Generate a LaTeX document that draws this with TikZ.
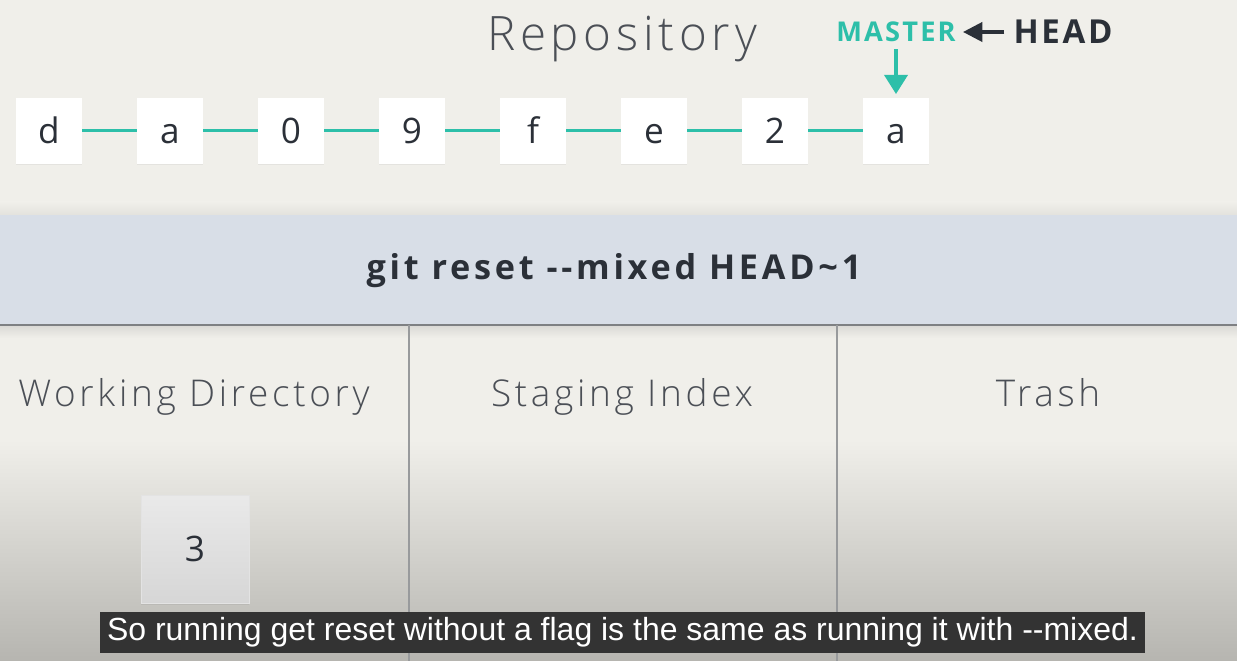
\documentclass[tikz,border=0pt]{standalone}
\usepackage{fontspec}
\setmainfont{Open Sans}
\newfontfamily\lightfont[LetterSpace=10]{Open Sans Light}
\newfontfamily\heavyfont[LetterSpace=8]{Open Sans Bold}
\newfontfamily\cmdfont[LetterSpace=11]{Open Sans Bold}
\newfontfamily\capfont{Liberation Sans}
\usetikzlibrary{arrows.meta,positioning,shadows}
\definecolor{paper}{HTML}{F0EFEA}
\definecolor{band}{HTML}{D8DEE7}
\definecolor{teal}{HTML}{2DBFA9}
\definecolor{ink}{HTML}{2B3038}
\definecolor{rule}{HTML}{7E8083}
\definecolor{floor}{HTML}{B6B5B0}

\tikzset{
  commit/.style={fill=white,minimum size=1.32cm,inner sep=0pt,text=ink,
    font=\fontsize{20}{22}\selectfont,text height=14pt,text depth=0pt,
    drop shadow={opacity=0.10,shadow xshift=0pt,shadow yshift=-0.6pt}},
  link/.style={teal,line width=1.7pt},
  title/.style={text=ink!85,font=\lightfont\fontsize{21}{24}\selectfont,
    text height=16pt,text depth=5pt},
}

\begin{document}
\begin{tikzpicture}[x=0.02cm,y=-0.02cm]
\useasboundingbox (0,0) rectangle (1237,661);
% background
\fill[paper] (0,0) rectangle (1237,215);
\shade[top color=paper,bottom color=paper!88!gray] (0,202) rectangle (1237,215);
\fill[paper] (0,325) rectangle (1237,440);
\shade[top color=paper,bottom color=floor] (0,440) rectangle (1237,661);
\shade[top color=paper!80!gray,bottom color=paper] (0,325) rectangle (1237,338);
\fill[band] (0,215) rectangle (1237,325);
\draw[rule,line width=1pt] (0,325) -- (1237,325);
\draw[rule!80,line width=0.6pt] (409,325) -- (409,661);
\draw[rule!80,line width=0.6pt] (837,325) -- (837,661);

% repository
\node[text=ink!85,font=\lightfont\fontsize{27}{30}\selectfont] (repo) at (622,39) {Repository};
\node[commit] (c1) at (49,131) {d};
\node[commit] (c2) at (170,131) {a};
\node[commit] (c3) at (291,131) {0};
\node[commit] (c4) at (412,131) {9};
\node[commit] (c5) at (533,131) {f};
\node[commit] (c6) at (654,131) {e};
\node[commit] (c7) at (775,131) {2};
\node[commit] (c8) at (896,131) {a};
\draw[link] (c1) -- (c2);
\draw[link] (c2) -- (c3);
\draw[link] (c3) -- (c4);
\draw[link] (c4) -- (c5);
\draw[link] (c5) -- (c6);
\draw[link] (c6) -- (c7);
\draw[link] (c7) -- (c8);

% pointers
\node[text=teal,inner sep=2pt,font=\heavyfont\fontsize{15.5}{17}\selectfont] (master) at (896,32) {MASTER};
\node[text=ink,inner sep=2pt,font=\heavyfont\fontsize{18.8}{20}\selectfont] (head) at (1063,32) {HEAD};
\draw[ink,line width=1.8pt,-{Triangle[length=11pt,width=11pt]},shorten <=3pt,shorten >=2pt] (head) -- (master);
\draw[teal,line width=2.6pt,-{Triangle[length=11pt,width=13pt]},shorten <=2pt,shorten >=2pt] (master) -- (c8);

% command
\node[text=ink,font=\cmdfont\fontsize{19.5}{22}\selectfont] (cmd) at (614,271) {git reset --mixed HEAD\char"007E 1};

% areas
\node[title] (wd) at (194,397) {Working Directory};
\node[title] (si) at (622,397) {Staging Index};
\node[title] (tr) at (1048,397) {Trash};
\node[commit,minimum size=2.16cm,fill=none,top color=white!83!gray,bottom color=white!68!gray,
  draw=white!78!gray,line width=0.3pt,drop shadow={opacity=0.15,shadow xshift=0pt,shadow yshift=-1pt}] (f3) at (195,549) {3};

% subtitle
\node[fill=black!80,text=white,inner xsep=4pt,minimum height=0.78cm,
  font=\capfont\fontsize{18.2}{20}\selectfont] (caption) at (622.5,632.5)
  {So running get reset without a flag is the same as running it with --mixed.};
\end{tikzpicture}
\end{document}
